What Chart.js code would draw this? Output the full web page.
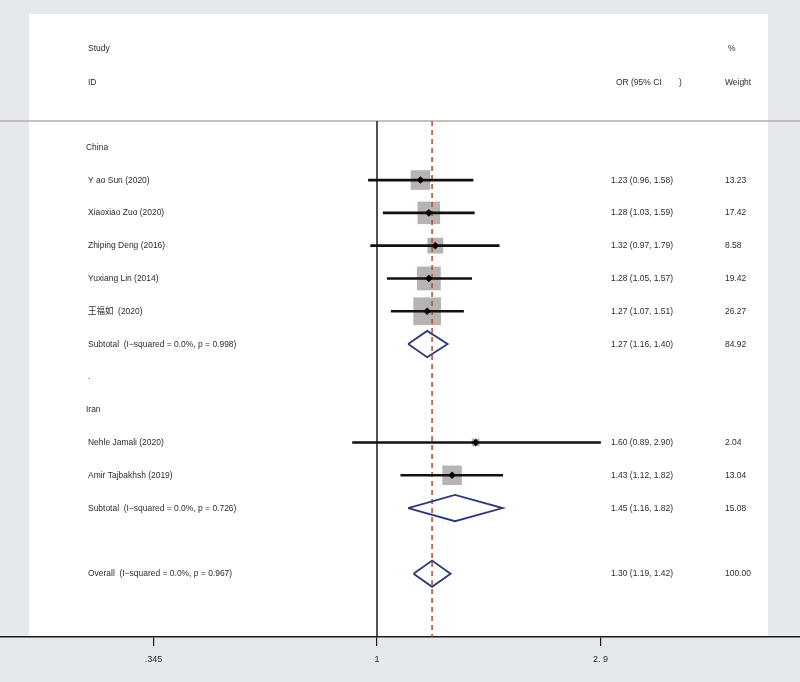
<!DOCTYPE html>
<html>
<head>
<meta charset="utf-8">
<script src="https://cdn.jsdelivr.net/npm/chart.js@4/dist/chart.umd.min.js"></script>
<style>
  html, body { margin: 0; padding: 0; background: #e5e8ec; }
  canvas { display: block; }
</style>
</head>
<body>
<canvas id="forest" width="800" height="682"></canvas>
<script>
// groups and studies
let groups = ['China', 'Iran'];
let studies = ['Y ao Sun (2020)', 'Xiaoxiao Zuo (2020)', 'Zhiping Deng (2016)', 'Yuxiang Lin (2014)', '王福如  (2020)', 'Nehle Jamali (2020)', 'Amir Tajbakhsh (2019)'];
let studyGroup = [0, 0, 0, 0, 0, 1, 1];
let studyOR = [1.23, 1.28, 1.32, 1.28, 1.27, 1.60, 1.43];
let studyLo = [0.96, 1.03, 0.97, 1.05, 1.07, 0.89, 1.12];
let studyHi = [1.58, 1.59, 1.79, 1.57, 1.51, 2.90, 1.82];
let studyWeight = [13.23, 17.42, 8.58, 19.42, 26.27, 2.04, 13.04];

// subtotals per group
let subLabels = ['Subtotal  (I\u2212squared = 0.0%, p = 0.998)', 'Subtotal  (I\u2212squared = 0.0%, p = 0.726)'];
let subOR = [1.27, 1.45];
let subLo = [1.16, 1.16];
let subHi = [1.40, 1.82];
let subWeight = [84.92, 15.08];

// overall
let overallLabel = 'Overall  (I\u2212squared = 0.0%, p = 0.967)';
let overallOR = 1.30;
let overallLo = 1.19;
let overallHi = 1.42;
let overallWeight = 100.00;

// x axis
let xTicks = [0.345, 1, 2.9];
let xTickLabels = ['.345', '1', '2. 9'];

// build the rows top to bottom
let rows = [];
groups.forEach(function(g, gi) {
    if (gi > 0) rows.push({ kind: 'dot', text: '.' });
    rows.push({ kind: 'group', text: g });
    studyGroup.forEach(function(sg, si) {
        if (sg === gi) rows.push({ kind: 'study', i: si, text: studies[si] });
    });
    rows.push({ kind: 'sub', i: gi, text: subLabels[gi] });
});
rows.push({ kind: 'blank', text: '' });
rows.push({ kind: 'overall', text: overallLabel });

let yMin = -0.8, yMax = 14.93;
let DIAMOND_H = 0.4;

let ciData = [], boxData = [], pointData = [];
let diamondSets = [];
rows.forEach(function(r, y) {
    if (r.kind === 'study') {
        let i = r.i;
        ciData.push({ x: [studyLo[i], studyHi[i]], y: y });
        boxData.push({ x: studyOR[i], y: y, w: studyWeight[i] });
        pointData.push({ x: studyOR[i], y: y });
    }
    if (r.kind === 'sub' || r.kind === 'overall') {
        let o = r.kind === 'sub' ? subOR[r.i] : overallOR;
        let l = r.kind === 'sub' ? subLo[r.i] : overallLo;
        let h = r.kind === 'sub' ? subHi[r.i] : overallHi;
        diamondSets.push([
            { x: l, y: y }, { x: o, y: y - DIAMOND_H }, { x: h, y: y },
            { x: o, y: y + DIAMOND_H }, { x: l, y: y }
        ]);
    }
});

function rowText(r) {
    if (r.kind === 'study') {
        let i = r.i;
        return [studyOR[i].toFixed(2) + ' (' + studyLo[i].toFixed(2) + ', ' + studyHi[i].toFixed(2) + ')', studyWeight[i].toFixed(2)];
    }
    if (r.kind === 'sub') {
        let i = r.i;
        return [subOR[i].toFixed(2) + ' (' + subLo[i].toFixed(2) + ', ' + subHi[i].toFixed(2) + ')', subWeight[i].toFixed(2)];
    }
    if (r.kind === 'overall') {
        return [overallOR.toFixed(2) + ' (' + overallLo.toFixed(2) + ', ' + overallHi.toFixed(2) + ')', overallWeight.toFixed(2)];
    }
    return null;
}

let FONT = '9px "Liberation Sans", Arial, "Noto Sans CJK SC", sans-serif';
function txt(ctx, s, x, y) {
    ctx.save();
    ctx.translate(x, y);
    ctx.scale(0.94, 1);
    ctx.fillText(s, 0, 0);
    ctx.restore();
}

// white panel + header rule
let panelPlugin = {
    id: 'panel',
    beforeDraw: function(chart) {
        let ctx = chart.ctx, a = chart.chartArea;
        ctx.save();
        ctx.fillStyle = '#ffffff';
        ctx.fillRect(29, 14, 768 - 29, a.bottom - 14);
        ctx.strokeStyle = '#b9aba7';
        ctx.lineWidth = 1.5;
        ctx.beginPath();
        ctx.moveTo(0, a.top);
        ctx.lineTo(chart.width, a.top);
        ctx.stroke();
        ctx.restore();
    }
};

// labels and columns
let textPlugin = {
    id: 'texts',
    afterDraw: function(chart) {
        let ctx = chart.ctx, ys = chart.scales.y;
        ctx.save();
        ctx.font = FONT;
        ctx.fillStyle = '#2b2b2b';
        ctx.textBaseline = 'middle';
        ctx.textAlign = 'left';
        txt(ctx, 'Study', 88, 49);
        txt(ctx, 'ID', 88, 83);
        txt(ctx, '%', 728, 49);
        txt(ctx, 'OR (95% CI', 616, 83);
        txt(ctx, ')', 679, 83);
        txt(ctx, 'Weight', 725, 83);
        rows.forEach(function(r, y) {
            let py = ys.getPixelForValue(y);
            let x = (r.kind === 'group') ? 86 : 88;
            if (r.text) txt(ctx, r.text, x, py);
            let cols = rowText(r);
            if (cols) {
                txt(ctx, cols[0], 611, py);
                txt(ctx, cols[1], 725, py);
            }
        });
        ctx.restore();
    }
};

let datasets = [
    {
        type: 'scatter', label: 'weight', data: boxData, order: 6,
        pointStyle: 'rect', backgroundColor: '#b7b3b3', borderWidth: 0,
        pointRadius: function(c) { return c.raw ? 3.82 * Math.sqrt(c.raw.w) : 0; }
    },
    {
        type: 'line', label: 'overall', data: [{ x: overallOR, y: yMin }, { x: overallOR, y: yMax }], order: 5,
        borderColor: '#b3492f', borderWidth: 1.5, borderDash: [5, 4], pointRadius: 0
    },
    {
        type: 'line', label: 'null', data: [{ x: 1, y: yMin }, { x: 1, y: yMax }], order: 4,
        borderColor: '#1a1a1a', borderWidth: 1.5, pointRadius: 0
    },
    {
        type: 'bar', label: 'ci', data: ciData, order: 3, indexAxis: 'y',
        backgroundColor: '#111111', barThickness: 2, grouped: false
    },
    {
        type: 'scatter', label: 'or', data: pointData, order: 1,
        pointStyle: 'rectRot', pointRadius: 3.8, backgroundColor: '#000000', borderWidth: 0
    }
];
diamondSets.forEach(function(d, k) {
    datasets.push({
        type: 'line', label: 'pooled' + k, data: d, order: 2,
        borderColor: '#2e3877', borderWidth: 1.8, pointRadius: 0, fill: false, tension: 0
    });
});

let ctx = document.getElementById('forest').getContext('2d');
let forest = new Chart(ctx, {
    type: 'scatter',
    data: { datasets: datasets },
    options: {
        responsive: false,
        animation: false,
        devicePixelRatio: 1,
        layout: { autoPadding: false, padding: { top: 121, left: 0, right: 0, bottom: 0 } },
        plugins: { legend: { display: false }, tooltip: { enabled: false } },
        scales: {
            x: {
                type: 'logarithmic',
                position: 'bottom',
                min: 0.166,
                max: 7.5,
                offset: false,
                afterBuildTicks: function(s) { s.ticks = xTicks.map(function(v) { return { value: v }; }); },
                afterFit: function(s) { s.height = 45; },
                ticks: {
                    autoSkip: false, maxRotation: 0, padding: 8,
                    color: '#2b2b2b',
                    font: { family: '"Liberation Sans", Arial, sans-serif', size: 9 },
                    callback: function(v, i) { return xTickLabels[i]; }
                },
                grid: { display: true, offset: false, drawOnChartArea: false, drawTicks: true, tickLength: 9, color: '#1a1a1a', lineWidth: 1.2 },
                border: { display: true, color: '#1a1a1a', width: 1.5 }
            },
            y: {
                type: 'linear',
                reverse: true,
                offset: false,
                bounds: 'data',
                grace: 0,
                min: yMin,
                max: yMax,
                display: false
            }
        }
    },
    plugins: [panelPlugin, textPlugin]
});
</script>
</body>
</html>
